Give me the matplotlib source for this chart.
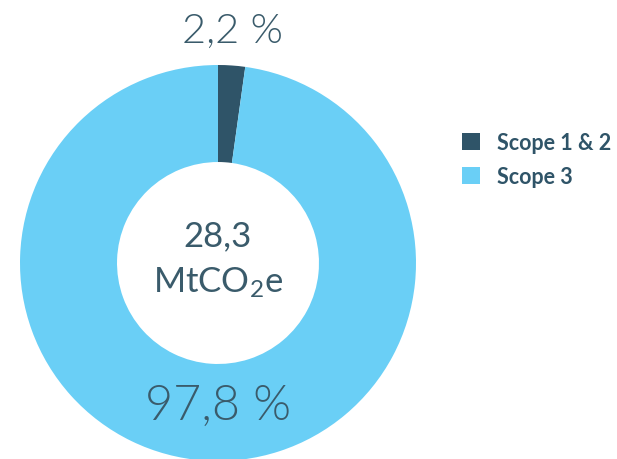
# -*- coding: utf-8 -*-
import matplotlib
matplotlib.use('Agg')
import matplotlib.pyplot as plt
from matplotlib.patches import Patch

# data
categories = ['Scope 1 & 2', 'Scope 3']
shares = [2.2, 97.8]
share_labels = ['2,2 %', '97,8 %']
total_label = '28,3\nMtCO$_2$e'

colors = ('#2f5468', '#6acff6')
text_col = '#3a5b6b'

plt.rcParams['font.family'] = ['Lato', 'DejaVu Sans']
plt.rcParams['mathtext.fontset'] = 'custom'
plt.rcParams['mathtext.rm'] = 'Lato'
plt.rcParams['mathtext.it'] = 'Lato'
plt.rcParams['mathtext.default'] = 'rm'

W, H = 617, 460
fig = plt.figure(figsize=(W / 100., H / 100.), dpi=100)
ax = fig.add_axes([0, 0, 1, 1])
ax.set_xlim(0, W)
ax.set_ylim(0, H)
ax.set_aspect('equal')
ax.axis('off')

cx, cy, r = 218, H - 264, 198
wedges, _ = ax.pie(shares, colors=colors, startangle=90, counterclock=False,
                   radius=r, center=(cx, cy),
                   wedgeprops=dict(width=r * 0.49, linewidth=0))
ax.set_xlim(0, W)
ax.set_ylim(0, H)

# percentage labels
ax.text(232, H - 31, share_labels[0], ha='center', va='center',
        fontsize=30, fontweight=300, color=text_col)
ax.text(218, H - 406, share_labels[1], ha='center', va='center',
        fontsize=35, fontweight=300, color=text_col)

# total in the hole
ax.text(cx, H - 260, total_label, ha='center', va='center',
        fontsize=25, color=text_col, linespacing=1.5)

handles = [Patch(facecolor=c, edgecolor='none') for c in colors]
leg = fig.legend(handles, categories, loc='upper left',
                 bbox_to_anchor=(462. / W, 1 - 133. / H), frameon=False,
                 borderpad=0, borderaxespad=0,
                 handlelength=0.84, handleheight=0.84, handletextpad=0.8,
                 labelspacing=0.6, prop={'size': 15.5, 'weight': 'bold'})
for t in leg.get_texts():
    t.set_color(colors[0])

plt.savefig('out.png', dpi=100)
